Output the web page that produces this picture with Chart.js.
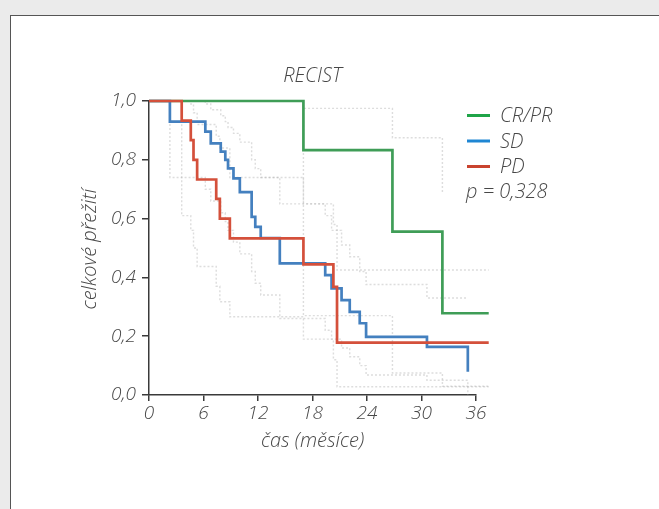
<!DOCTYPE html>
<html><head><meta charset="utf-8">
<script src="https://cdn.jsdelivr.net/npm/chart.js@4"></script>
<style>
html,body{margin:0;padding:0;width:659px;height:509px;overflow:hidden;background:#ebebeb;}
#panel{position:absolute;left:10px;top:15px;width:700px;height:600px;background:#fff;border-top:1.5px solid #555;border-left:1.5px solid #555;}
#wrap{position:absolute;left:0;top:0;width:659px;height:509px;}
</style></head><body>
<div id="panel"></div>
<div id="wrap"><canvas id="c" width="659" height="509"></canvas></div>
<script>
// ---- data (months, survival) ----
const seriesNames = ['CR/PR', 'SD', 'PD'];
const xTickValues = [0, 6, 12, 18, 24, 30, 36];
const yTickValues = [0, 0.2, 0.4, 0.6, 0.8, 1.0];
const chartTitle = 'RECIST';
const xTitle = 'čas (měsíce)';
const yTitle = 'celkové přežití';
const pValueText = 'p = 0,328';

const crprCurve = [[0,1],[17.0,0.833],[26.8,0.556],[32.3,0.278],[37.4,0.278]];
const sdCurve = [[0,1],[2.3,0.93],[6.2,0.896],[6.8,0.856],[7.9,0.828],[8.4,0.80],[8.7,0.771],[9.3,0.737],[10.0,0.69],[11.3,0.606],[11.7,0.572],[12.3,0.534],[14.4,0.448],[19.4,0.408],[20.1,0.363],[21.2,0.323],[22.1,0.283],[23.2,0.244],[23.9,0.198],[30.6,0.164],[35.1,0.079]];
const pdCurve = [[0,1],[3.6,0.933],[4.6,0.867],[4.9,0.80],[5.3,0.733],[7.4,0.667],[7.8,0.60],[8.9,0.533],[17.0,0.444],[20.3,0.368],[20.7,0.178],[37.4,0.178]];

// 95% confidence bands (faint)
const crprUpper = [[17.0,1],[17.0,0.975],[26.8,0.975],[26.8,0.875],[32.3,0.875],[32.3,0.69]];
const crprLower = [[17.0,1],[17.0,0.27],[26.8,0.27],[26.8,0.075],[32.3,0.075],[32.3,0.03],[37.4,0.03]];
const sdUpper = [[0,1],[6.2,0.99],[6.8,0.97],[7.9,0.95],[8.4,0.93],[8.7,0.91],[9.3,0.89],[10.0,0.86],[11.3,0.80],[11.7,0.77],[12.3,0.74],[14.4,0.65],[19.4,0.61],[20.1,0.56],[21.2,0.51],[22.1,0.47],[23.2,0.42],[23.9,0.376],[30.6,0.33],[35.1,0.33]];
const sdLower = [[0,1],[2.3,0.74],[6.2,0.70],[6.8,0.66],[7.9,0.62],[8.4,0.59],[8.7,0.56],[9.3,0.52],[10.0,0.48],[11.3,0.42],[11.7,0.38],[12.3,0.34],[14.4,0.26],[19.4,0.22],[20.1,0.19],[21.2,0.16],[22.1,0.13],[23.2,0.10],[23.9,0.068],[30.6,0.05],[35.1,0.0]];
const pdUpper = [[0,1],[4.6,0.99],[4.9,0.96],[5.3,0.92],[7.4,0.88],[7.8,0.84],[8.9,0.74],[17.0,0.65],[20.3,0.58],[20.7,0.425],[37.4,0.425]];
const pdLower = [[0,1],[3.6,0.61],[4.6,0.56],[4.9,0.50],[5.3,0.437],[7.4,0.37],[7.8,0.317],[8.9,0.266],[17.0,0.19],[20.3,0.12],[20.7,0.028],[37.4,0.028]];

// ---- styling ----
const FF = '"Open Sans", sans-serif';
const FW = '300';
const TEXT = '#474747';
const AXIS = '#3a3a3a';
const lineColors = ['#3f9d57', '#4480bf', '#d4503b'];
const legendColors = ['#1fa448', '#1f86d3', '#c9432f'];
const ciColor = 'rgba(165,165,165,0.38)';

const toXY = arr => arr.map(p => ({x: p[0], y: p[1]}));
function mainDs(label, data, color, order) {
  return {label, data: toXY(data), borderColor: color, borderWidth: 2.7, stepped: 'before',
    pointRadius: 0, fill: false, clip: false, order};
}
function ciDs(label, data) {
  return {label, data: toXY(data), borderColor: ciColor, borderWidth: 1.4, borderDash: [2, 2],
    stepped: 'before', pointRadius: 0, fill: false, clip: false, order: 5};
}
const fontStr = size => 'italic ' + FW + ' ' + size + 'px ' + FF;

const overlay = {
  id: 'overlay',
  afterDatasetsDraw(chart) {
    const ctx = chart.ctx;
    const a = chart.chartArea;
    ctx.save();
    ctx.fillStyle = TEXT;
    ctx.textAlign = 'center';
    ctx.textBaseline = 'alphabetic';
    ctx.font = fontStr(20);
    ctx.fillText(chartTitle, (a.left + a.right) / 2, 82);
    ctx.fillText(xTitle, (a.left + a.right) / 2, 447);
    ctx.save();
    ctx.translate(96, 249);
    ctx.rotate(-Math.PI / 2);
    ctx.fillText(yTitle, 0, 0);
    ctx.restore();
    // legend
    const ly = [115.5, 141, 166.5];
    ctx.textAlign = 'left';
    ctx.font = fontStr(20);
    seriesNames.forEach((n, i) => {
      ctx.strokeStyle = legendColors[i];
      ctx.lineWidth = 3;
      ctx.beginPath(); ctx.moveTo(467, ly[i]); ctx.lineTo(490, ly[i]); ctx.stroke();
      ctx.fillText(n, 500, ly[i] + 6.5);
    });
    ctx.fillText(pValueText, 466, 198);
    ctx.restore();
  }
};

new Chart(document.getElementById('c'), {
  type: 'line',
  data: {
    datasets: [
      mainDs(seriesNames[2], pdCurve, lineColors[2], 0),
      mainDs(seriesNames[1], sdCurve, lineColors[1], 1),
      mainDs(seriesNames[0], crprCurve, lineColors[0], 2),
      ciDs('CR/PR upper', crprUpper), ciDs('CR/PR lower', crprLower),
      ciDs('SD upper', sdUpper), ciDs('SD lower', sdLower),
      ciDs('PD upper', pdUpper), ciDs('PD lower', pdLower)
    ]
  },
  options: {
    responsive: false,
    animation: false,
    events: [],
    layout: {padding: {left: 0, top: 101, right: 183, bottom: 0}},
    plugins: {legend: {display: false}, tooltip: {enabled: false}, title: {display: false}},
    scales: {
      x: {
        type: 'linear', min: 0, max: 36,
        afterFit(s) { s.height = 114; },
        afterBuildTicks(s) { s.ticks = xTickValues.map(v => ({value: v})); },
        grid: {drawOnChartArea: false, drawTicks: true, tickLength: 6, color: AXIS, lineWidth: 1.5},
        border: {display: true, color: AXIS, width: 1.5},
        ticks: {color: TEXT, padding: 1, font: {family: FF, size: 19, style: 'italic', weight: FW}, maxRotation: 0,
          callback: v => String(v)}
      },
      y: {
        type: 'linear', min: 0, max: 1,
        afterFit(s) { s.width = 149; },
        afterBuildTicks(s) { s.ticks = yTickValues.map(v => ({value: v})); },
        grid: {drawOnChartArea: false, drawTicks: true, tickLength: 7, color: AXIS, lineWidth: 1.5},
        border: {display: true, color: AXIS, width: 1.5},
        ticks: {color: TEXT, padding: 6, font: {family: FF, size: 19, style: 'italic', weight: FW},
          callback: v => v.toFixed(1).replace('.', ',')}
      }
    }
  },
  plugins: [overlay]
});
</script>
</body></html>
